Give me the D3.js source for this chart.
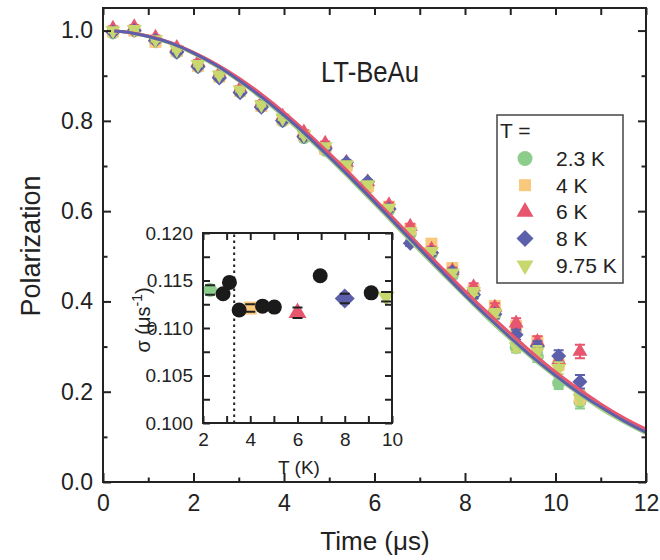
<!DOCTYPE html>
<html>
<head>
<meta charset="utf-8">
<script src="https://cdn.jsdelivr.net/npm/d3@7"></script>
<style>
body { margin: 0; background: #fff; }
svg { display: block; font-family: "Liberation Sans", Arial, sans-serif; }
</style>
</head>
<body>
<svg width="660" height="560"></svg>
<script>
// series (temperatures), colours and marker shapes
const temps = ["2.3 K", "4 K", "6 K", "8 K", "9.75 K"];
const colors = ["#8ccd8c", "#f8c87d", "#e8556e", "#5c5faa", "#c8d76e"];
const shapes = ["circle", "square", "triangle", "diamond", "down"];

// main panel data, polarization vs time (us)
const times = [0.22, 0.69, 1.16, 1.63, 2.10, 2.57, 3.03, 3.50, 3.97, 4.44, 4.91, 5.38,
  5.85, 6.32, 6.79, 7.26, 7.72, 8.19, 8.66, 9.13, 9.60, 10.07, 10.54];
const pol23 = [0.995, 1.000, 0.975, 0.952, 0.920, 0.897, 0.864, 0.832, 0.800, 0.763, 0.735, 0.697,
  0.652, 0.603, 0.550, 0.505, 0.458, 0.415, 0.370, 0.298, 0.278, 0.219, 0.178];
const pol4 = [0.998, 1.000, 0.975, 0.955, 0.922, 0.898, 0.866, 0.833, 0.803, 0.768, 0.738, 0.700,
  0.655, 0.610, 0.560, 0.528, 0.474, 0.425, 0.390, 0.345, 0.311, 0.260, 0.190];
const pol6 = [1.005, 1.008, 0.985, 0.962, 0.930, 0.905, 0.872, 0.840, 0.810, 0.775, 0.750, 0.708,
  0.665, 0.614, 0.566, 0.515, 0.468, 0.432, 0.387, 0.352, 0.311, 0.270, 0.289];
const pol8 = [0.997, 1.000, 0.978, 0.952, 0.920, 0.895, 0.862, 0.830, 0.800, 0.765, 0.738, 0.708,
  0.665, 0.605, 0.529, 0.508, 0.465, 0.415, 0.372, 0.326, 0.300, 0.279, 0.222];
const pol975 = [1.000, 1.003, 0.980, 0.958, 0.925, 0.902, 0.869, 0.836, 0.806, 0.769, 0.743, 0.703,
  0.659, 0.607, 0.555, 0.511, 0.463, 0.422, 0.374, 0.300, 0.289, 0.252, 0.186];
const polErr = [0.004, 0.004, 0.004, 0.004, 0.004, 0.004, 0.004, 0.004, 0.004, 0.004, 0.004, 0.004,
  0.004, 0.005, 0.006, 0.006, 0.007, 0.008, 0.009, 0.011, 0.012, 0.013, 0.015];

// fitted curves
const fitT = [0.25, 0.5, 1, 1.5, 2, 2.5, 3, 3.5, 4, 4.5, 5, 5.5, 6, 6.5, 7, 7.5, 8, 8.5, 9, 9.5,
  10, 10.5, 11, 11.5, 12];
const fit23 = [0.999, 0.997, 0.987, 0.971, 0.949, 0.921, 0.888, 0.850, 0.809, 0.764, 0.717, 0.667,
  0.616, 0.564, 0.512, 0.461, 0.411, 0.362, 0.316, 0.273, 0.233, 0.196, 0.162, 0.133, 0.107];
const fit4 = [0.999, 0.997, 0.988, 0.972, 0.951, 0.924, 0.893, 0.857, 0.816, 0.772, 0.725, 0.675,
  0.624, 0.572, 0.520, 0.469, 0.418, 0.370, 0.324, 0.280, 0.240, 0.203, 0.169, 0.140, 0.114];
const fit6 = [0.999, 0.997, 0.988, 0.973, 0.952, 0.926, 0.895, 0.859, 0.819, 0.775, 0.728, 0.679,
  0.627, 0.576, 0.524, 0.473, 0.423, 0.375, 0.329, 0.285, 0.244, 0.207, 0.173, 0.143, 0.117];
const fit8 = [0.999, 0.997, 0.987, 0.972, 0.950, 0.923, 0.890, 0.853, 0.812, 0.768, 0.720, 0.671,
  0.620, 0.568, 0.516, 0.465, 0.414, 0.366, 0.320, 0.276, 0.236, 0.199, 0.166, 0.136, 0.110];
const fit975 = [0.999, 0.997, 0.987, 0.971, 0.949, 0.922, 0.889, 0.852, 0.811, 0.766, 0.719, 0.669,
  0.618, 0.566, 0.514, 0.463, 0.413, 0.365, 0.318, 0.275, 0.235, 0.198, 0.164, 0.135, 0.109];

// main axes ticks
const xMajor = [0, 2, 4, 6, 8, 10, 12];
const xMinor = [1, 3, 5, 7, 9, 11];
const yMajor = [0, 0.2, 0.4, 0.6, 0.8, 1.0];
const yMinor = [0.1, 0.3, 0.5, 0.7, 0.9];

// inset: sigma vs T
const insetT = [2.3, 4, 6, 8, 9.75];
const insetSigma = [0.1140, 0.1121, 0.1116, 0.1131, 0.1133];
const insetErr = [0.0005, 0.0004, 0.00055, 0.0005, 0.0005];
const blackT = [2.85, 3.12, 3.53, 4.52, 5.02, 6.96, 9.12];
const blackSigma = [0.1136, 0.1148, 0.1119, 0.1123, 0.1122, 0.1155, 0.1137];
const tDash = 3.32;
const ixTicks = [2, 3, 4, 5, 6, 7, 8, 9, 10];
const ixLabels = [2, 4, 6, 8, 10];
const iyTicks = [0.100, 0.1025, 0.105, 0.1075, 0.110, 0.1125, 0.115, 0.1175, 0.120];
const iyLabels = [0.100, 0.105, 0.110, 0.115, 0.120];

const series = [
  { name: temps[0], pts: pol23, fit: fit23 },
  { name: temps[1], pts: pol4, fit: fit4 },
  { name: temps[2], pts: pol6, fit: fit6 },
  { name: temps[3], pts: pol8, fit: fit8 },
  { name: temps[4], pts: pol975, fit: fit975 }
];
series.forEach((s, i) => { s.color = colors[i]; s.shape = shapes[i]; });

const svg = d3.select("svg");
const x = d3.scaleLinear().domain([0, 12]).range([103, 646]);
const y = d3.scaleLinear().domain([0, 1.05]).range([482, 8]);
const ink = "#222";

/** marker path; w = visible width in px */
function marker(shape, w) {
  if (shape === "circle") return d3.symbol(d3.symbolCircle, Math.PI * w * w / 4)();
  if (shape === "square") return d3.symbol(d3.symbolSquare, w * w)();
  if (shape === "diamond") return d3.symbol(d3.symbolSquare, w * w / 2)();
  return d3.symbol(d3.symbolTriangle, w * w * Math.sqrt(3) / 4)();
}
function rot(shape) {
  return shape === "diamond" ? " rotate(45)" : shape === "down" ? " rotate(180)" : "";
}
const mainSize = { circle: 13, square: 12, triangle: 15, diamond: 15, down: 15 };

// error bars + points, drawn series by series
series.forEach(s => {
  const g = svg.append("g");
  s.pts.forEach((p, k) => {
    const e = polErr[k], cx = x(times[k]);
    g.append("path")
      .attr("d", `M${cx},${y(p - e)}V${y(p + e)}M${cx - 5},${y(p - e)}h10M${cx - 5},${y(p + e)}h10`)
      .attr("stroke", s.color).attr("stroke-width", 2).attr("fill", "none");
  });
  g.selectAll("path.pt").data(s.pts).join("path").attr("class", "pt")
    .attr("d", marker(s.shape, mainSize[s.shape]))
    .attr("transform", (d, k) => `translate(${x(times[k])},${y(d)})${rot(s.shape)}`)
    .attr("fill", s.color);
});

// fitted curves on top
const line = d3.line().x(d => x(d[0])).y(d => y(d[1])).curve(d3.curveMonotoneX);
[0, 4, 1, 2, 3].forEach(i => {
  const s = series[i];
  svg.append("path")
    .attr("d", line(fitT.map((t, j) => [t, s.fit[j]])))
    .attr("fill", "none").attr("stroke", s.color).attr("stroke-width", 3);
});

// axes
function styleAxis(g, fs) {
  g.select(".domain").remove();
  g.attr("font-family", null).attr("font-size", fs);
  g.selectAll("line").attr("stroke", ink).attr("stroke-width", 2);
  g.selectAll("text").attr("fill", ink);
}
const axes = svg.append("g");
axes.append("g").attr("transform", "translate(0,482)")
  .call(d3.axisBottom(x).tickValues(xMajor).tickSize(-9).tickSizeOuter(0).tickPadding(13).tickFormat(d3.format("d")))
  .call(styleAxis, 23);
axes.append("g").attr("transform", "translate(0,482)")
  .call(d3.axisBottom(x).tickValues(xMinor).tickSize(-4.5).tickSizeOuter(0).tickFormat(""))
  .call(styleAxis, 23);
axes.append("g").attr("transform", "translate(0,8)")
  .call(d3.axisTop(x).tickValues(xMajor.concat(xMinor)).tickSize(-7).tickSizeOuter(0).tickFormat(""))
  .call(styleAxis, 23);
axes.append("g").attr("transform", "translate(103,0)")
  .call(d3.axisLeft(y).tickValues(yMajor).tickSize(-8).tickSizeOuter(0).tickPadding(10).tickFormat(d3.format(".1f")))
  .call(styleAxis, 23);
axes.append("g").attr("transform", "translate(103,0)")
  .call(d3.axisLeft(y).tickValues(yMinor).tickSize(-4.5).tickSizeOuter(0).tickFormat(""))
  .call(styleAxis, 23);
axes.append("g").attr("transform", "translate(646,0)")
  .call(d3.axisRight(y).tickValues(yMajor).tickSize(-8).tickSizeOuter(0).tickFormat(""))
  .call(styleAxis, 23);
axes.append("g").attr("transform", "translate(646,0)")
  .call(d3.axisRight(y).tickValues(yMinor).tickSize(-4.5).tickSizeOuter(0).tickFormat(""))
  .call(styleAxis, 23);
svg.append("rect").attr("x", 103).attr("y", 8).attr("width", 543).attr("height", 474)
  .attr("fill", "none").attr("stroke", ink).attr("stroke-width", 2);

// axis titles
svg.append("text").attr("transform", "translate(40,246) rotate(-90)").attr("text-anchor", "middle")
  .attr("font-size", 27).attr("fill", ink).text("Polarization");
svg.append("text").attr("x", 375).attr("y", 550).attr("text-anchor", "middle")
  .attr("font-size", 26).attr("fill", ink).text("Time (μs)");
svg.append("text").attr("x", 370).attr("y", 82).attr("text-anchor", "middle")
  .attr("font-size", 29).attr("fill", ink).attr("textLength", 98).attr("lengthAdjust", "spacingAndGlyphs")
  .text("LT-BeAu");

// legend
const legSize = { circle: 15, square: 12, triangle: 17, diamond: 17, down: 17 };
const leg = svg.append("g");
leg.append("rect").attr("x", 497).attr("y", 115).attr("width", 126).attr("height", 168)
  .attr("fill", "#fff").attr("stroke", "#444").attr("stroke-width", 1.5);
leg.append("text").attr("x", 500).attr("y", 138).attr("font-size", 21).attr("fill", ink).text("T =");
series.forEach((s, i) => {
  const cy = 158.5 + i * 26.7;
  leg.append("path").attr("d", marker(s.shape, legSize[s.shape]))
    .attr("transform", `translate(525,${cy})${rot(s.shape)}`).attr("fill", s.color);
  leg.append("text").attr("x", 556).attr("y", cy + 7.5).attr("font-size", 21).attr("fill", ink).text(s.name);
});

// inset
const ix = d3.scaleLinear().domain([2, 10]).range([203, 392]);
const iy = d3.scaleLinear().domain([0.100, 0.120]).range([423, 233]);
const inset = svg.append("g");
inset.append("rect").attr("x", 203).attr("y", 233).attr("width", 189).attr("height", 190).attr("fill", "#fff");
inset.append("line").attr("x1", ix(tDash)).attr("x2", ix(tDash)).attr("y1", iy(0.100)).attr("y2", iy(0.120))
  .attr("stroke", ink).attr("stroke-width", 2).attr("stroke-dasharray", "2.5,3.5");

const insetSize = { circle: 14, square: 13, triangle: 18, diamond: 20, down: 17 };
insetT.forEach((t, i) => {
  inset.append("path").attr("d", marker(shapes[i], insetSize[shapes[i]]))
    .attr("transform", `translate(${ix(t)},${iy(insetSigma[i])})${rot(shapes[i])}`).attr("fill", colors[i]);
  const cx = ix(t), e = insetErr[i];
  inset.append("path")
    .attr("d", `M${cx - 5},${iy(insetSigma[i] - e)}h10M${cx - 5},${iy(insetSigma[i] + e)}h10`)
    .attr("stroke", ink).attr("stroke-width", 2);
});
inset.selectAll("circle.blk").data(blackT).join("circle").attr("class", "blk")
  .attr("cx", d => ix(d)).attr("cy", (d, i) => iy(blackSigma[i])).attr("r", 7.5).attr("fill", "#1a1a1a");

inset.append("g").attr("transform", "translate(0,423)")
  .call(d3.axisBottom(ix).tickValues(ixTicks).tickSize(-7).tickSizeOuter(0).tickPadding(10)
    .tickFormat(d => ixLabels.includes(d) ? d : ""))
  .call(styleAxis, 19);
inset.append("g").attr("transform", "translate(0,233)")
  .call(d3.axisTop(ix).tickValues(ixTicks).tickSize(-7).tickSizeOuter(0).tickFormat(""))
  .call(styleAxis, 19);
inset.append("g").attr("transform", "translate(203,0)")
  .call(d3.axisLeft(iy).tickValues(iyTicks).tickSize(-7).tickSizeOuter(0).tickPadding(10)
    .tickFormat(d => iyLabels.some(v => Math.abs(v - d) < 1e-6) ? d3.format(".3f")(d) : ""))
  .call(styleAxis, 19);
inset.append("g").attr("transform", "translate(392,0)")
  .call(d3.axisRight(iy).tickValues(iyTicks).tickSize(-7).tickSizeOuter(0).tickFormat(""))
  .call(styleAxis, 19);
inset.append("rect").attr("x", 203).attr("y", 233).attr("width", 189).attr("height", 190)
  .attr("fill", "none").attr("stroke", ink).attr("stroke-width", 2);

inset.append("text").attr("x", 299).attr("y", 474).attr("text-anchor", "middle")
  .attr("font-size", 19).attr("fill", ink).text("T (K)");
const sl = inset.append("text").attr("transform", "translate(150,320) rotate(-90)").attr("text-anchor", "middle")
  .attr("font-size", 20).attr("fill", ink);
sl.append("tspan").text("σ (μs");
sl.append("tspan").attr("dy", -8).attr("font-size", 14).text("-1");
sl.append("tspan").attr("dy", 8).text(")");
</script>
</body>
</html>
